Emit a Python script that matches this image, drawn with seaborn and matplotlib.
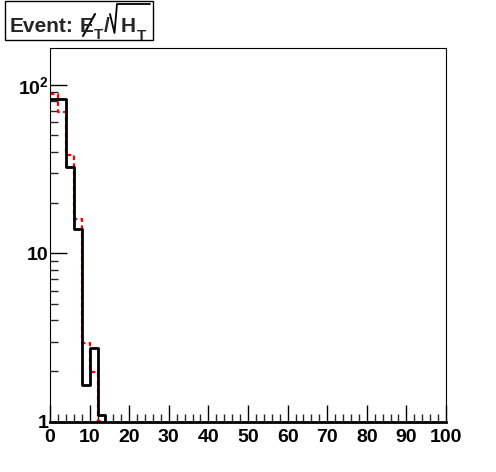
import numpy as np
import pandas as pd
import matplotlib
matplotlib.use("Agg")
import matplotlib.pyplot as plt
import seaborn as sns
from matplotlib.patches import Rectangle
from matplotlib.lines import Line2D
from matplotlib.ticker import FixedLocator, FuncFormatter, LogLocator, NullFormatter, MultipleLocator

# Data
bin_edges = list(range(0, 102, 2))
black_vals = [82, 82, 32.3, 14.0, 1.66, 2.76, 1.1] + [0] * 43
red_vals = [88, 69, 38.4, 16.0, 2.95, 1.98, 1.02] + [0] * 43
x_ticks = [0, 10, 20, 30, 40, 50, 60, 70, 80, 90, 100]
y_ticks = [1, 10, 100]
y_tick_labels = ["1", "10", r"$\mathbf{10^{2}}$"]

sns.set_style("white")
plt.rcParams["font.family"] = ["Liberation Sans", "DejaVu Sans"]
plt.rcParams["font.weight"] = "bold"
plt.rcParams["mathtext.fontset"] = "custom"
plt.rcParams["mathtext.rm"] = "Liberation Sans:bold"
plt.rcParams["mathtext.it"] = "Liberation Sans:bold"
plt.rcParams["mathtext.bf"] = "Liberation Sans:bold"
plt.rcParams["mathtext.default"] = "rm"

centers = [(bin_edges[i] + bin_edges[i + 1]) / 2 for i in range(len(bin_edges) - 1)]
df_b = pd.DataFrame({"x": centers, "w": black_vals})
df_r = pd.DataFrame({"x": centers, "w": red_vals})

W, H = 496, 472
fig = plt.figure(figsize=(W / 100, H / 100), dpi=100)
ax = fig.add_axes([50 / W, 50 / H, 396 / W, 374 / H])
ax.set_yscale("log")

sns.histplot(data=df_r, x="x", weights="w", bins=bin_edges, element="step", fill=False,
             color="red", linewidth=1.6, linestyle=(0, (2, 1.5)), ax=ax)
sns.histplot(data=df_b, x="x", weights="w", bins=bin_edges, element="step", fill=False,
             color="black", linewidth=2, ax=ax)

ax.set_xlim(0, 100)
ax.set_ylim(1, 165)
ax.set_xlabel("")
ax.set_ylabel("")

ax.xaxis.set_major_locator(FixedLocator(x_ticks))
ax.xaxis.set_minor_locator(MultipleLocator(2))
ax.yaxis.set_major_locator(FixedLocator(y_ticks))
ax.yaxis.set_major_formatter(FuncFormatter(lambda v, p: y_tick_labels[y_ticks.index(int(round(v)))] if int(round(v)) in y_ticks else ""))
ax.yaxis.set_minor_locator(LogLocator(base=10, subs=np.arange(2, 10)))
ax.yaxis.set_minor_formatter(NullFormatter())

ax.tick_params(axis="both", which="major", direction="in", length=12, width=1, labelsize=14,
               top=False, right=False, bottom=True, left=True, colors="black")
ax.tick_params(axis="both", which="minor", direction="in", length=6, width=1,
               top=False, right=False, bottom=True, left=True)
ax.tick_params(axis="x", pad=5)
ax.tick_params(axis="y", pad=1)
for lab in ax.get_xticklabels() + ax.get_yticklabels():
    lab.set_fontweight("bold")

for s in ax.spines.values():
    s.set_color("black")
    s.set_linewidth(0.8)
ax.spines["bottom"].set_linewidth(2)

# Title box (pixel coordinates from top-left)
def px(x, y):
    return (x / W, 1 - y / H)

fig.patches.append(Rectangle(px(5, 40), 148 / W, 39 / H, transform=fig.transFigure,
                             facecolor="white", edgecolor="black", linewidth=1))
big, small = 15, 11
fig.text(*px(10, 32), "Event:", fontsize=big, fontweight="bold", va="baseline", ha="left")
fig.text(*px(80, 32), "E", fontsize=big, fontweight="bold", va="baseline", ha="left")
fig.lines.append(Line2D([83 / W, 95 / W], [1 - 36 / H, 1 - 14 / H], transform=fig.transFigure,
                        color="black", linewidth=1.5))
fig.text(*px(93.5, 39), "T", fontsize=small, fontweight="bold", va="baseline", ha="left")
fig.text(*px(104, 32), "/", fontsize=big, fontweight="bold", va="baseline", ha="left")
rad_x = [110, 114.5, 117, 150]
rad_y = [14, 33, 4, 4]
fig.lines.append(Line2D([v / W for v in rad_x], [1 - v / H for v in rad_y],
                        transform=fig.transFigure, color="black", linewidth=1.3))
fig.text(*px(121, 32), "H", fontsize=big, fontweight="bold", va="baseline", ha="left")
fig.text(*px(137, 40), "T", fontsize=small, fontweight="bold", va="baseline", ha="left")

fig.savefig("out.png", dpi=100)
